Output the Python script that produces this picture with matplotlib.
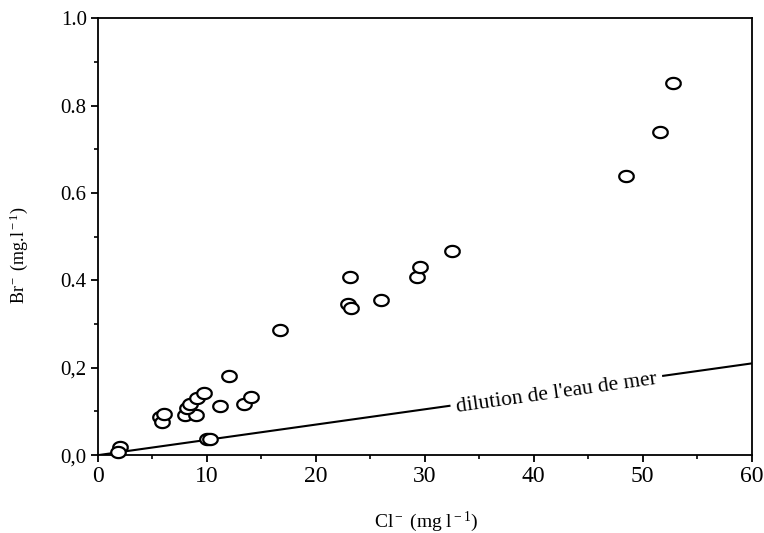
import numpy as np
import matplotlib
matplotlib.use('Agg')
import matplotlib.pyplot as plt
from matplotlib.ticker import MultipleLocator, FixedLocator, FixedFormatter

plt.rcParams['font.family'] = ['Liberation Serif', 'DejaVu Serif']
plt.rcParams['mathtext.fontset'] = 'custom'
plt.rcParams['mathtext.rm'] = 'Liberation Serif'
plt.rcParams['mathtext.it'] = 'Liberation Serif:italic'

# Cl- (mg/l) and Br- (mg/l)
cl = [2.06, 1.85, 5.73, 5.89, 6.10, 8.03, 9.0, 8.18, 8.49, 9.1, 9.7,
      11.24, 12.06, 10.0, 10.3, 13.4, 14.05, 16.74, 23.1, 23.0, 23.2,
      26.0, 29.3, 29.6, 32.5, 48.5, 51.6, 52.8]
br = [0.019, 0.008, 0.088, 0.076, 0.094, 0.092, 0.092, 0.107, 0.118, 0.130, 0.143,
      0.112, 0.181, 0.038, 0.036, 0.118, 0.132, 0.286, 0.408, 0.347, 0.336,
      0.356, 0.408, 0.430, 0.467, 0.639, 0.740, 0.851]

# seawater dilution line Br/Cl ratio
sea_x = [0, 60]
sea_ratio = 0.0035

y_ticks = [0.0, 0.2, 0.4, 0.6, 0.8, 1.0]
y_labels = ['0,0', '0,2', '0.4', '0.6', '0.8', '1.0']

fig = plt.figure(figsize=(7.64, 5.33), dpi=100)
ax = fig.add_axes([0.128, 0.146, 0.856, 0.820])

# ellipse marker (wider than tall)
t = np.linspace(0, 2 * np.pi, 60)
ell = np.column_stack([1.3 * np.cos(t), np.sin(t)])

sea_y = [v * sea_ratio for v in sea_x]
ax.plot(sea_x, sea_y, color='black', lw=1.5, zorder=2)
ax.text(42.1, 42.1 * sea_ratio - 0.006, "dilution de l'eau de mer", fontsize=15.5,
        rotation=8, rotation_mode='anchor', ha='center', va='center',
        bbox=dict(facecolor='white', edgecolor='none', pad=4), zorder=3)

ax.scatter(cl, br, marker=ell, s=110, facecolors='white', edgecolors='black',
           linewidths=1.6, zorder=4, clip_on=False)

ax.set_xlim(0, 60)
ax.set_ylim(0, 1.0)
ax.xaxis.set_major_locator(MultipleLocator(10))
ax.xaxis.set_minor_locator(MultipleLocator(5))
ax.yaxis.set_major_locator(FixedLocator(y_ticks))
ax.yaxis.set_major_formatter(FixedFormatter(y_labels))
ax.yaxis.set_minor_locator(MultipleLocator(0.1))
ax.tick_params(which='major', direction='out', length=5, width=1.3, pad=3)
ax.tick_params(which='minor', direction='out', length=3, width=1.2)
ax.tick_params(axis='x', labelsize=17)
ax.tick_params(axis='y', labelsize=15)
for s in ax.spines.values():
    s.set_linewidth(1.3)

ax.set_xlabel(r'Cl$^{\rm -}$ (mg l$^{\rm -1}$)', fontsize=14)
ax.set_ylabel(r'Br$^{\rm -}$ (mg.l$^{\rm -1}$)', fontsize=13)
ax.xaxis.set_label_coords(0.502, -0.125)
ax.yaxis.set_label_coords(-0.104, 0.458)

fig.savefig('out.png', dpi=100)
